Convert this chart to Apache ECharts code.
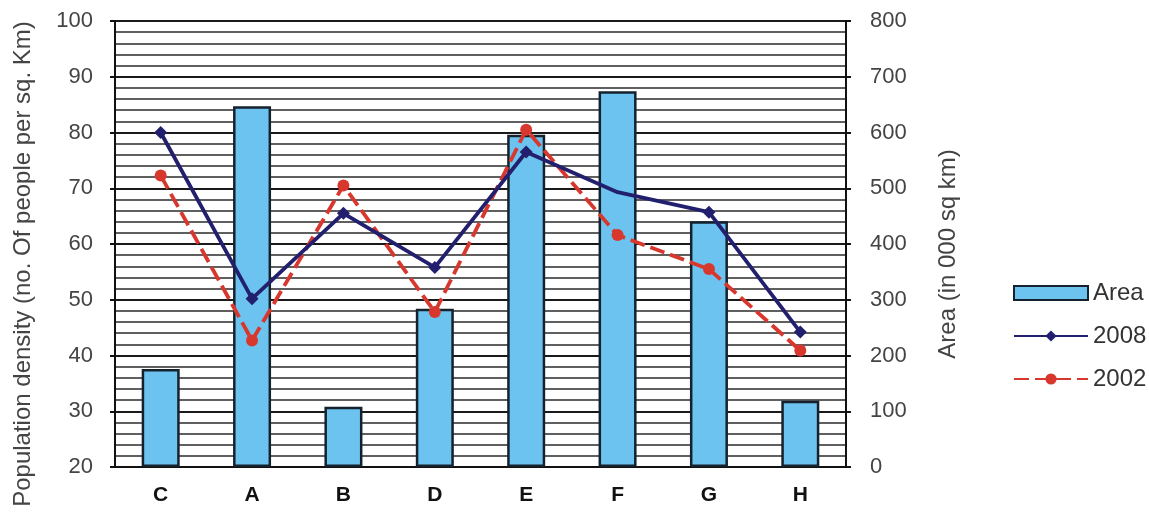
<!DOCTYPE html>
<html>
<head>
<meta charset="utf-8">
<script src="https://cdn.jsdelivr.net/npm/echarts@6/dist/echarts.min.js"></script>
<style>
  html, body { margin: 0; padding: 0; background: #fff; }
  #chart { width: 1149px; height: 519px; }
</style>
</head>
<body>
<div id="chart"></div>
<script>
// Regions along the x axis
const regions = ['C', 'A', 'B', 'D', 'E', 'F', 'G', 'H'];
// Area of each region (in 000 sq km), right axis
const area = [176, 647, 108, 284, 596, 674, 441, 119];
// Population density (people per sq. km), left axis
const density2008 = [80, 50.2, 65.5, 55.8, 76.5, 69.3, 65.7, 44.2];
const density2002 = [72.3, 42.7, 70.5, 47.8, 80.5, 61.6, 55.5, 40.9];

const FONT = '"Liberation Sans", Arial, sans-serif';
const chart = echarts.init(document.getElementById('chart'), null, { renderer: 'canvas' });

chart.setOption({
  animation: false,
  backgroundColor: '#ffffff',
  textStyle: { fontFamily: FONT },
  grid: { left: 115, right: 303, top: 21, bottom: 52, containLabel: false },
  legend: {
    orient: 'vertical',
    left: 1008,
    top: 276,
    itemWidth: 74,
    itemHeight: 14,
    itemGap: 19,
    textStyle: { fontFamily: FONT, fontSize: 24, color: '#333' },
    data: [
      { name: 'Area', icon: 'rect' },
      { name: '2008' },
      { name: '2002' }
    ]
  },
  xAxis: {
    type: 'category',
    data: regions,
    axisLine: { lineStyle: { color: '#111', width: 2 } },
    axisTick: { show: false },
    axisLabel: { fontFamily: FONT, fontSize: 21, fontWeight: 'bold', color: '#111', margin: 18 }
  },
  yAxis: [
    {
      type: 'value',
      min: 20, max: 100, interval: 10,
      name: 'Population density (no. Of people per sq. Km)',
      nameLocation: 'middle',
      nameRotate: 90,
      nameGap: 80,
      nameTextStyle: { fontFamily: FONT, fontSize: 24, color: '#444', padding: [0, 40, 0, 0] },
      axisLine: { show: true, lineStyle: { color: '#111', width: 2 } },
      axisTick: { show: true, length: 5, lineStyle: { color: '#111', width: 2 } },
      axisLabel: { fontFamily: FONT, fontSize: 22, color: '#444', margin: 22 },
      splitLine: { show: true, lineStyle: { color: '#1a1a1a', width: 2.2 } },
      minorTick: { show: false, splitNumber: 5 },
      minorSplitLine: { show: true, lineStyle: { color: '#2a2a2a', width: 1.6 } }
    },
    {
      type: 'value',
      min: 0, max: 800, interval: 100,
      position: 'right',
      name: 'Area (in 000 sq km)',
      nameLocation: 'middle',
      nameRotate: 90,
      nameGap: 90,
      nameTextStyle: { fontFamily: FONT, fontSize: 24, color: '#444', padding: [0, 20, 0, 0] },
      axisLine: { show: true, lineStyle: { color: '#111', width: 2 } },
      axisTick: { show: true, length: 5, lineStyle: { color: '#111', width: 2 } },
      axisLabel: { fontFamily: FONT, fontSize: 22, color: '#444', margin: 24 },
      splitLine: { show: false }
    }
  ],
  series: [
    {
      name: 'Area',
      type: 'bar',
      yAxisIndex: 1,
      data: area,
      barWidth: 38,
      itemStyle: { color: '#6cc3ef', borderColor: '#15222e', borderWidth: 2.5 },
      z: 2
    },
    {
      name: '2008',
      type: 'line',
      yAxisIndex: 0,
      data: density2008,
      symbol: 'diamond',
      symbolSize: (v, p) => (p.dataIndex === 5 ? 0 : 13),
      lineStyle: { color: '#22206e', width: 3.8 },
      itemStyle: { color: '#22206e' },
      z: 4
    },
    {
      name: '2002',
      type: 'line',
      yAxisIndex: 0,
      data: density2002,
      symbol: 'circle',
      symbolSize: 12,
      lineStyle: { color: '#d8372e', width: 3.8, type: [15, 6] },
      itemStyle: { color: '#d8372e' },
      z: 3
    }
  ]
});
</script>
</body>
</html>
